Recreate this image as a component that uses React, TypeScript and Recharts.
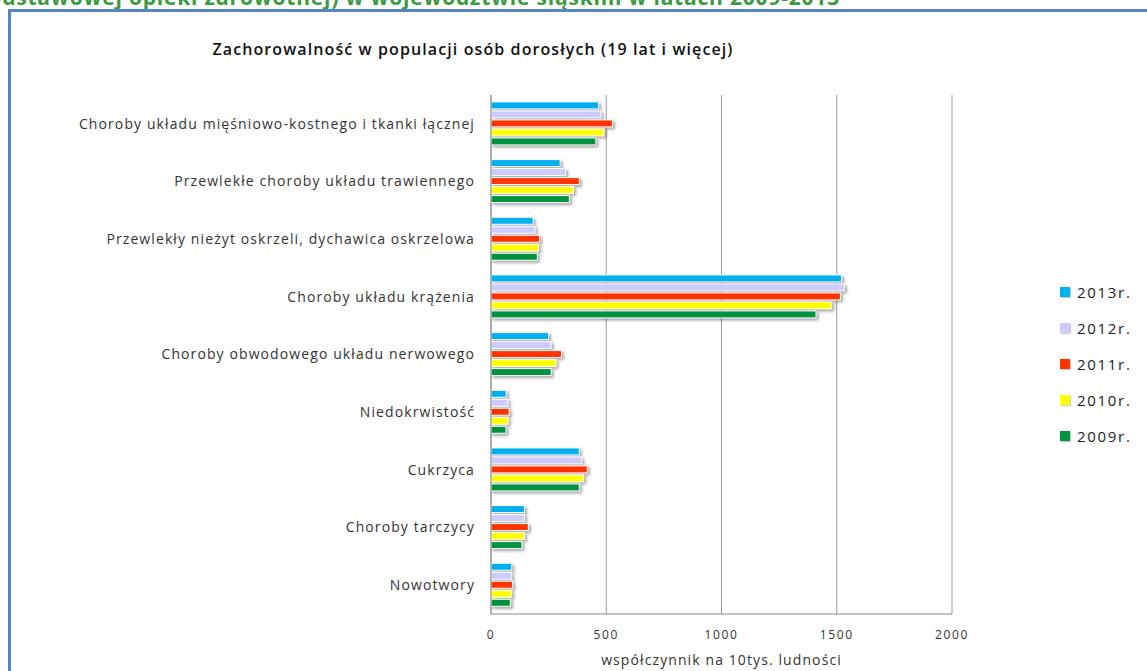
import React from "react";
import {
  BarChart,
  Bar,
  XAxis,
  YAxis,
  CartesianGrid,
  Legend
} from "recharts";

const categories = [
  "Choroby układu mięśniowo-kostnego i tkanki łącznej",
  "Przewlekłe choroby układu trawiennego",
  "Przewlekły nieżyt oskrzeli, dychawica oskrzelowa",
  "Choroby układu krążenia",
  "Choroby obwodowego układu nerwowego",
  "Niedokrwistość",
  "Cukrzyca",
  "Choroby tarczycy",
  "Nowotwory"
];

const v2013 = [467, 300, 183, 1521, 250, 66, 383, 145, 90];
const v2012 = [477, 324, 191, 1533, 261, 74, 394, 145, 90];
const v2011 = [527, 383, 211, 1516, 306, 79, 418, 162, 94];
const v2010 = [490, 358, 207, 1478, 282, 74, 402, 145, 90];
const v2009 = [455, 340, 201, 1410, 261, 65, 383, 134, 84];

const xTicks = [0, 500, 1000, 1500, 2000];

const series = [
  { key: "y2013", name: "2013r.", color: "#00B0F0" },
  { key: "y2012", name: "2012r.", color: "#CCCCFF" },
  { key: "y2011", name: "2011r.", color: "#FF3300" },
  { key: "y2010", name: "2010r.", color: "#FFFF00" },
  { key: "y2009", name: "2009r.", color: "#00923F" }
];

const data = categories.map((name, i) => ({
  name,
  y2013: v2013[i],
  y2012: v2012[i],
  y2011: v2011[i],
  y2010: v2010[i],
  y2009: v2009[i]
}));

const FONT = "'Open Sans', 'DejaVu Sans', sans-serif";

function ShadowBar(props: any) {
  const { x, y, width, height, fill } = props;
  if (!width || width <= 0) return null;
  return (
    <rect
      x={x}
      y={y}
      width={width}
      height={height}
      fill={fill}
      stroke="#ffffff"
      strokeWidth={1}
      style={{ filter: "drop-shadow(2px 2px 1.5px rgba(0,0,0,0.35))" }}
    />
  );
}

function LegendList() {
  return (
    <div style={{ fontFamily: FONT, fontSize: 15, letterSpacing: 1.7, color: "#222" }}>
      {series.map((s) => (
        <div key={s.key} style={{ display: "flex", alignItems: "center", height: 36 }}>
          <span
            style={{
              display: "inline-block",
              width: 10,
              height: 10,
              background: s.color,
              marginRight: 7,
              boxShadow: "1px 1px 1px rgba(0,0,0,0.2)"
            }}
          />
          <span>{s.name}</span>
        </div>
      ))}
    </div>
  );
}

export default function App() {
  return (
    <div
      style={{
        position: "absolute",
        top: 0,
        left: 0,
        width: 1147,
        height: 671,
        overflow: "hidden",
        background: "#fff"
      }}
    >
      {/* page heading above the frame, cut by the screenshot */}
      <svg width={1147} height={20} style={{ position: "absolute", top: 0, left: 0 }}>
        <text
          x={840}
          y={5}
          textAnchor="end"
          fill="#3A9A3E"
          fontFamily={FONT}
          fontWeight={700}
          fontSize={21}
          letterSpacing={0.8}
        >
          podstawowej opieki zdrowotnej) w województwie śląskim w latach 2009-2013
        </text>
      </svg>
      <div
        style={{
          position: "absolute",
          left: 8,
          top: 9,
          width: 1300,
          height: 900,
          borderLeft: "3px solid #5686C6",
          borderTop: "3px solid #5686C6"
        }}
      />
      <div
        style={{
          position: "absolute",
          top: 38,
          left: 473,
          transform: "translateX(-50%)",
          whiteSpace: "nowrap",
          fontFamily: FONT,
          fontWeight: 600,
          fontSize: 16,
          letterSpacing: 1.1,
          color: "#111"
        }}
      >
        Zachorowalność w populacji osób dorosłych (19 lat i więcej)
      </div>
      <div style={{ position: "absolute", top: 0, left: 0 }}>
        <BarChart
          width={1147}
          height={671}
          data={data}
          layout="vertical"
          margin={{ top: 95, right: 195, bottom: 0, left: 0 }}
          barCategoryGap="12%"
          barGap={2}
        >
          <CartesianGrid horizontal={false} stroke="#9a9a9a" />
          <XAxis
            type="number"
            domain={[0, 2000]}
            ticks={xTicks}
            interval={0}
            height={57}
            axisLine={{ stroke: "#8c8c8c" }}
            tickLine={false}
            tickMargin={10}
            tick={{ fontFamily: FONT, fontSize: 12, letterSpacing: 1.6, fill: "#333" }}
            label={{
              value: "współczynnik na 10tys. ludności",
              position: "insideBottom",
              offset: 6,
              style: { fontFamily: FONT, fontSize: 14, letterSpacing: 1.1, fill: "#333" }
            }}
          />
          <YAxis
            type="category"
            dataKey="name"
            width={491}
            interval={0}
            axisLine={{ stroke: "#8c8c8c" }}
            tickLine={false}
            tickMargin={10}
            tick={{ fontFamily: FONT, fontSize: 14, letterSpacing: 1.1, fill: "#333" }}
          />
          <Legend
            layout="vertical"
            align="center"
            verticalAlign="middle"
            content={() => <LegendList />}
            wrapperStyle={{ left: 1060, top: 274, width: 90 }}
          />
          {series.map((s) => (
            <Bar
              key={s.key}
              dataKey={s.key}
              name={s.name}
              fill={s.color}
              shape={<ShadowBar />}
              isAnimationActive={false}
            />
          ))}
        </BarChart>
      </div>
    </div>
  );
}
